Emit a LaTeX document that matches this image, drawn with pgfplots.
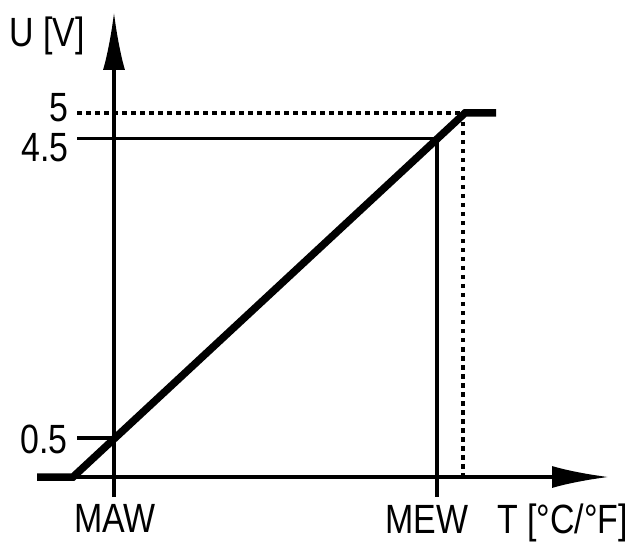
\documentclass[border=0pt]{standalone}
\usepackage{fontspec}
\setmainfont{Liberation Sans}
\usepackage{pgfplots}
\pgfplotsset{compat=1.18}
\usetikzlibrary{arrows.meta}

% condensed-looking label text
\newcommand{\lbl}[1]{\scalebox{0.83}[1]{\fontsize{41}{45}\selectfont #1}}

\begin{document}
\begin{tikzpicture}
  \begin{axis}[
      scale only axis,
      width=630bp, height=543bp,
      xmin=0, xmax=630, ymin=0, ymax=543,
      hide axis, clip=false,
      every axis plot/.append style={black, no markers, line cap=butt, line join=miter},
      thin line/.style={line width=3.4bp},
      dotted line/.style={line width=3.4bp, dash pattern=on 4.5bp off 4.5bp},
      thick line/.style={line width=7.5bp},
    ]
    % axes with arrow heads
    \addplot[thin line, -{Latex[length=58bp,width=22bp]}] coordinates {(114,46) (114,531)};
    \addplot[thin line, -{Latex[length=57bp,width=22bp]}] coordinates {(73,66) (609,66)};
    % reference lines
    \addplot[thin line] coordinates {(77,105) (114,105)};          % 0.5
    \addplot[thin line] coordinates {(77,404.5) (437,404.5) (437,46)}; % 4.5 / MEW
    \addplot[dotted line] coordinates {(77,430) (463,430)};        % 5
    \addplot[dotted line] coordinates {(463,430) (463,66)};
    % output characteristic
    \addplot[thick line] coordinates {(37,66) (73,66) (465,430) (496,430)};

    \node[anchor=base west, inner sep=0pt] at (axis cs:9,496) {\lbl{U [V]}};
    \node[anchor=base east, inner sep=0pt] at (axis cs:69,421) {\lbl{5}};
    \node[anchor=base east, inner sep=0pt] at (axis cs:69,381) {\lbl{4.5}};
    \node[anchor=base east, inner sep=0pt] at (axis cs:68,90) {\lbl{0.5}};
    \node[anchor=base, inner sep=0pt] at (axis cs:115,11) {\lbl{MAW}};
    \node[anchor=base, inner sep=0pt] at (axis cs:427,10) {\lbl{MEW}};
    \node[anchor=base west, inner sep=0pt] at (axis cs:497,10) {\lbl{T [°C/°F]}};
  \end{axis}
  \pgfresetboundingbox
  \path[use as bounding box] (current axis.south west) rectangle (current axis.north east);
\end{tikzpicture}
\end{document}
